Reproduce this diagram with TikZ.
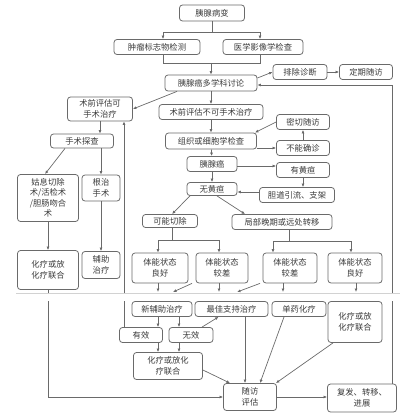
\documentclass[tikz,border=0pt]{standalone}
\usepackage{fontspec}
\setmainfont{Noto Sans CJK SC}
\usetikzlibrary{positioning,arrows.meta}
\definecolor{linegray}{HTML}{6A6A6A}
\definecolor{textgray}{HTML}{3A3A3A}

\begin{document}
\begin{tikzpicture}[
  x=1pt, y=-1pt,
  font=\fontsize{8.3}{10.5}\selectfont,
  box/.style={draw=linegray, line width=0.8pt, rounded corners=3pt, inner sep=1pt, align=center, text=textgray, minimum height=15pt},
  arr/.style={-{Latex[length=3.5pt,width=3pt]}, draw=linegray, line width=0.7pt},
  line/.style={draw=linegray, line width=0.7pt}]
\useasboundingbox (0,0) rectangle (420,420);
% upper part
\node[box, minimum width=65pt, minimum height=16pt] (lesion) at (212,13) {胰腺病变};
\node[box, minimum width=86pt] (marker) at (157,47) {肿瘤标志物检测};
\node[box, minimum width=80pt] (imaging) at (263,47) {医学影像学检查};
\node[box, minimum width=92pt, minimum height=16pt] (mdt) at (211,83) {胰腺癌多学科讨论};
\node[box, minimum width=54pt] (exclude) at (300,72) {排除诊断};
\node[box, minimum width=53pt] (regular) at (366,72) {定期随访};
\node[box, minimum width=65pt, minimum height=24pt] (operable) at (100,109) {术前评估可\\手术治疗};
\node[box, minimum width=104pt] (inoperable) at (211,112) {术前评估不可手术治疗};
% surgical branch
\node[box, minimum width=63pt, minimum height=14pt] (explore) at (82,141) {手术探查};
\node[box, minimum width=61pt, minimum height=47pt] (palliative) at (48,198) {姑息切除\\术/活检术\\/胆肠吻合\\术};
\node[box, minimum width=38pt, minimum height=26pt] (radical) at (101,188) {根治\\手术};
\node[box, minimum width=61pt, minimum height=39pt] (chemoL) at (48,270) {化疗或放\\化疗联合};
\node[box, minimum width=38pt, minimum height=27pt] (adjuvant) at (101,265) {辅助\\治疗};
% non-surgical branch
\node[box, minimum width=91pt, minimum height=16pt] (biopsy) at (211,141) {组织或细胞学检查};
\node[box, minimum width=53pt] (closefu) at (303,122) {密切随访};
\node[box, minimum width=53pt] (unsure) at (303,148) {不能确诊};
\node[box, minimum width=50pt] (cancer) at (212,164) {胰腺癌};
\node[box, minimum width=53pt] (jaundice) at (303,170) {有黄疸};
\node[box, minimum width=75pt] (drain) at (297,195) {胆道引流、支架};
\node[box, minimum width=50pt, minimum height=13pt] (nojaundice) at (212,189) {无黄疸};
\node[box, minimum width=55pt, minimum height=13pt] (resectable) at (170,221) {可能切除};
\node[box, minimum width=100pt] (advanced) at (282,222) {局部晚期或远处转移};
\node[box, minimum width=56pt, minimum height=30pt] (goodA) at (160,268) {体能状态\\良好};
\node[box, minimum width=52pt, minimum height=30pt] (poorA) at (222,268) {体能状态\\较差};
\node[box, minimum width=54pt, minimum height=30pt] (poorB) at (290,268) {体能状态\\较差};
\node[box, minimum width=54pt, minimum height=30pt] (goodB) at (355,268) {体能状态\\良好};
% lower part
\node[box, minimum width=60pt] (neo) at (162,309) {新辅助治疗};
\node[box, minimum width=73pt] (bsc) at (231.5,309) {最佳支持治疗};
\node[box, minimum width=54pt] (single) at (299,309) {单药化疗};
\node[box, minimum width=54pt, minimum height=41pt] (chemoR) at (355,322) {化疗或放\\化疗联合};
\node[box, minimum width=43pt] (eff) at (141,335) {有效};
\node[box, minimum width=44pt] (ineff) at (191,335) {无效};
\node[box, minimum width=69pt, minimum height=27pt] (chemoM) at (168,366) {化疗或放化\\疗联合};
\node[box, minimum width=53pt, minimum height=27pt] (follow) at (250,397) {随访\\评估};
\node[box, minimum width=69pt, minimum height=28pt] (recur) at (362,398) {复发、转移、\\进展};
\coordinate (cut1) at (158,292);
\coordinate (cut2) at (173,292);
\coordinate (cut3) at (219,292);
\coordinate (cut4) at (237,292);
\coordinate (cut5) at (283,292);
\coordinate (cut6) at (356,292);
% connectors
\draw[arr] (lesion.south) -- ++(0,10.5) -| ([xshift=6pt]marker.north);
\draw[arr] (lesion.south) -- ++(0,10.5) -| ([xshift=-3pt]imaging.north);
\draw[line] ([xshift=6pt]marker.south) -- ++(0,8) coordinate (merge) -| ([xshift=-3pt]imaging.south);
\draw[arr] (merge -| mdt.north) -- (mdt.north);
\draw[arr] ([yshift=5pt]mdt.east) -- (exclude.west);
\draw[arr] (exclude) -- (regular);
\draw[arr] ([xshift=30pt]recur.north) |- ([yshift=-2pt]mdt.east);
\draw[arr] ([xshift=-34pt]mdt.south) -- (operable.east);
\draw[arr] (mdt) -- (inoperable);
\draw[arr] (operable.south) -- (operable.south |- explore.north);
\draw[arr] ([xshift=-17pt]eff.north) -- ([xshift=-17pt]eff.north |- operable.south);
\draw[arr] ([xshift=-17pt]explore.south) -- ([xshift=-3pt]palliative.north);
\draw[arr] (radical.north |- explore.south) -- (radical.north);
\draw[arr] (palliative) -- (chemoL);
\draw[arr] (radical) -- (adjuvant);
\draw[arr] (chemoL.south) |- (follow.west);
\draw[arr] (inoperable) -- (biopsy);
\draw[arr] (biopsy.east |- unsure.west) -- (unsure.west);
\draw[arr] (unsure) -- (closefu);
\draw[arr] (closefu.west) -- ([xshift=-2pt]biopsy.north east);
\draw[arr] (biopsy) -- (cancer);
\draw[arr] ([yshift=-2pt]cancer.east) -- ([yshift=-2pt]cancer.east -| jaundice.west);
\draw[arr] (jaundice) -- (jaundice |- drain.north);
\draw[arr] ([yshift=3pt]drain.west) -- ([yshift=3pt]drain.west -| nojaundice.east);
\draw[arr] (cancer) -- (nojaundice);
\draw[arr] ([xshift=-22pt]nojaundice.south) -- ([xshift=2pt]resectable.north);
\draw[arr] ([xshift=5pt]nojaundice.south) -- ([xshift=-37pt]advanced.north);
\draw[arr] ([xshift=2pt]resectable.south) -- ++(0,12.5) -| ([xshift=-2pt]goodA.north);
\draw[arr] ([xshift=2pt]resectable.south) -- ++(0,12.5) -| ([xshift=-3pt]poorA.north);
\draw[arr] ([xshift=7pt]advanced.south) -- ++(0,11.5) -| ([xshift=-17pt]poorB.north);
\draw[arr] ([xshift=7pt]advanced.south) -- ++(0,11.5) -| ([xshift=-4pt]goodB.north);
\draw[arr] ([xshift=-2pt]goodA.south) -- (cut1);
\draw[arr] ([xshift=-30pt]poorA.south) -- (cut2);
\draw[arr] ([xshift=-3pt]poorA.south) -- (cut3);
\draw[arr] ([xshift=-30pt]poorB.south) -- (cut4);
\draw[arr] ([xshift=-7pt]poorB.south) -- (cut5);
\draw[arr] ([xshift=1pt]goodB.south) -- (cut6);
\draw[arr] ([xshift=-4pt]neo.south) -- ([xshift=-4pt]neo.south |- eff.north);
\draw[arr] ([xshift=17pt]neo.south) -- ([xshift=17pt]neo.south |- ineff.north);
\draw[arr] ([xshift=11pt]ineff.north) -- ([xshift=-13pt]bsc.south);
\draw[arr] ([xshift=17pt]eff.south) -- ([xshift=17pt]eff.south |- chemoM.north);
\draw[arr] ([xshift=-12pt]ineff.south) -- ([xshift=-12pt]ineff.south |- chemoM.north);
\draw[arr] ([yshift=-4pt]chemoM.east) -- ([xshift=-20pt]follow.north);
\draw[arr] ([xshift=13.5pt]bsc.south) -- ([xshift=13.5pt]bsc.south |- follow.north);
\draw[arr] ([xshift=-15pt]single.south) -- ([xshift=10pt]follow.north);
\draw[arr] ([xshift=-22pt]chemoR.south) -- ([xshift=-1pt]follow.north east);
\draw[arr] (follow.east) -- (follow.east -| recur.west);
% page seam
\fill[white] (10,293.8) rectangle (410,300.5);
\draw[gray!35, line width=1pt] (16,293) -- (400,293);
\end{tikzpicture}
\end{document}
